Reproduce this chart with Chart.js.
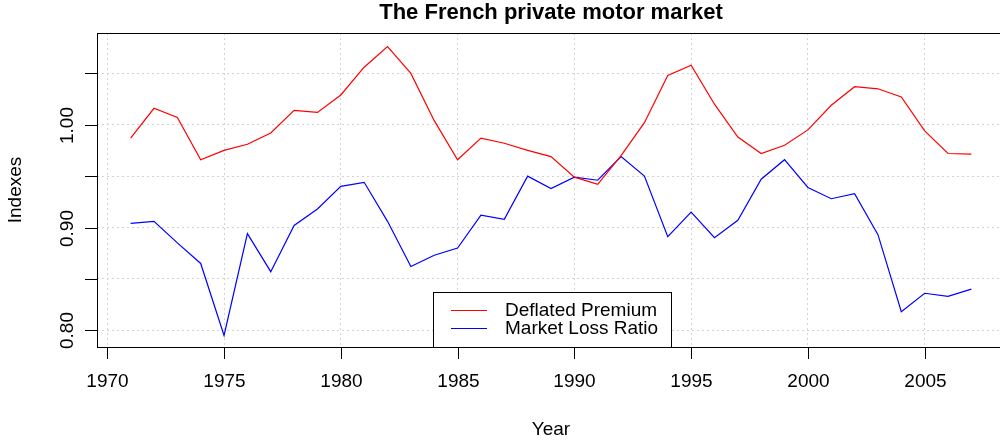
<!DOCTYPE html>
<html>
<head>
<meta charset="utf-8">
<script src="https://cdn.jsdelivr.net/npm/chart.js@4/dist/chart.umd.min.js"></script>
<style>
  html, body { margin: 0; padding: 0; background: #fff; overflow: hidden; }
  #wrap { width: 1000px; height: 445px; overflow: hidden; }
</style>
</head>
<body>
<div id="wrap"><canvas id="chart" width="1010" height="445"></canvas></div>
<script>
const years = [1971, 1972, 1973, 1974, 1975, 1976, 1977, 1978, 1979, 1980,
               1981, 1982, 1983, 1984, 1985, 1986, 1987, 1988, 1989, 1990,
               1991, 1992, 1993, 1994, 1995, 1996, 1997, 1998, 1999, 2000,
               2001, 2002, 2003, 2004, 2005, 2006, 2007];
const deflatedPremium = [0.987, 1.016, 1.007, 0.966, 0.975, 0.981, 0.992, 1.014, 1.012, 1.029,
                         1.056, 1.076, 1.050, 1.004, 0.966, 0.987, 0.982, 0.975, 0.969, 0.949,
                         0.942, 0.970, 1.002, 1.048, 1.058, 1.020, 0.988, 0.972, 0.980, 0.995,
                         1.019, 1.037, 1.035, 1.027, 0.994, 0.972, 0.9715];
const marketLossRatio = [0.904, 0.906, 0.885, 0.865, 0.795, 0.894, 0.857, 0.902, 0.918, 0.940,
                         0.944, 0.906, 0.862, 0.873, 0.880, 0.912, 0.908, 0.950, 0.938, 0.949,
                         0.946, 0.969, 0.950, 0.891, 0.915, 0.890, 0.907, 0.947, 0.966, 0.939,
                         0.928, 0.933, 0.893, 0.818, 0.836, 0.833, 0.840];
const xTicks = [1970, 1975, 1980, 1985, 1990, 1995, 2000, 2005];
const yTicks = [0.80, 0.85, 0.90, 0.95, 1.00, 1.05];
const yTickLabels = ['0.80', '', '0.90', '', '1.00', ''];

const FONT = '"Liberation Sans", Arial, Helvetica, sans-serif';

// R style frame, axes, titles and legend
const rDecor = {
  id: 'rDecor',
  afterDraw(chart) {
    const ctx = chart.ctx;
    const a = chart.chartArea;
    const xs = chart.scales.x, ys = chart.scales.y;
    ctx.save();
    ctx.strokeStyle = '#000';
    ctx.lineWidth = 1;
    ctx.strokeRect(Math.round(a.left) + 0.5, Math.round(a.top) + 0.5,
                   Math.round(a.right - a.left), Math.round(a.bottom - a.top));

    // x axis ticks + labels
    ctx.fillStyle = '#000';
    ctx.font = '19px ' + FONT;
    ctx.textAlign = 'center';
    ctx.textBaseline = 'middle';
    xTicks.forEach(v => {
      const px = Math.round(xs.getPixelForValue(v)) + 0.5;
      ctx.beginPath();
      ctx.moveTo(px, a.bottom);
      ctx.lineTo(px, a.bottom + 12);
      ctx.stroke();
      ctx.fillText(String(v), px, 382);
    });

    // y axis ticks + rotated labels
    yTicks.forEach((v, i) => {
      const py = Math.round(ys.getPixelForValue(v)) + 0.5;
      ctx.beginPath();
      ctx.moveTo(a.left - 12, py);
      ctx.lineTo(a.left, py);
      ctx.stroke();
      if (yTickLabels[i]) {
        ctx.save();
        ctx.translate(68, py);
        ctx.rotate(-Math.PI / 2);
        ctx.fillText(yTickLabels[i], 0, 0);
        ctx.restore();
      }
    });

    // axis titles
    ctx.fillText('Year', (a.left + a.right) / 2, 430);
    ctx.save();
    ctx.translate(16, (a.top + a.bottom) / 2);
    ctx.rotate(-Math.PI / 2);
    ctx.fillText('Indexes', 0, 0);
    ctx.restore();

    // main title
    ctx.font = 'bold 22px ' + FONT;
    ctx.fillText('The French private motor market', (a.left + a.right) / 2, 13);

    // legend box
    const lx = 433.5, ly = 292.5, lw = 238, lh = Math.round(a.bottom) - 292;
    ctx.fillStyle = '#fff';
    ctx.fillRect(lx, ly, lw, lh);
    ctx.strokeRect(lx, ly, lw, lh);
    ctx.font = '19px ' + FONT;
    ctx.textAlign = 'left';
    chart.data.datasets.forEach((ds, i) => {
      const y = 310.5 + i * 18;
      ctx.strokeStyle = ds.borderColor;
      ctx.beginPath();
      ctx.moveTo(451, y);
      ctx.lineTo(487, y);
      ctx.stroke();
      ctx.fillStyle = '#000';
      ctx.fillText(ds.label, 505, y);
    });
    ctx.restore();
  }
};

new Chart(document.getElementById('chart'), {
  type: 'line',
  data: {
    labels: years,
    datasets: [
      {
        label: 'Deflated Premium',
        data: years.map((y, i) => ({ x: y, y: deflatedPremium[i] })),
        borderColor: '#ff0000',
        borderWidth: 1.2,
        pointRadius: 0,
        tension: 0,
        fill: false
      },
      {
        label: 'Market Loss Ratio',
        data: years.map((y, i) => ({ x: y, y: marketLossRatio[i] })),
        borderColor: '#0000ff',
        borderWidth: 1.2,
        pointRadius: 0,
        tension: 0,
        fill: false
      }
    ]
  },
  options: {
    responsive: false,
    animation: false,
    events: [],
    layout: { padding: { left: 97, top: 33, right: 5, bottom: 98 } },
    plugins: {
      legend: { display: false },
      title: { display: false },
      tooltip: { enabled: false }
    },
    scales: {
      x: {
        type: 'linear',
        min: 1969.56,
        max: 2008.44,
        afterBuildTicks: s => { s.ticks = xTicks.map(v => ({ value: v })); },
        ticks: { display: false },
        grid: { color: '#d3d3d3', lineWidth: 1, drawTicks: false },
        border: { display: false, dash: [2, 3] }
      },
      y: {
        min: 0.7837,
        max: 1.0893,
        afterBuildTicks: s => { s.ticks = yTicks.map(v => ({ value: v })); },
        ticks: { display: false },
        grid: { color: '#d3d3d3', lineWidth: 1, drawTicks: false },
        border: { display: false, dash: [2, 3] }
      }
    }
  },
  plugins: [rDecor]
});
</script>
</body>
</html>
